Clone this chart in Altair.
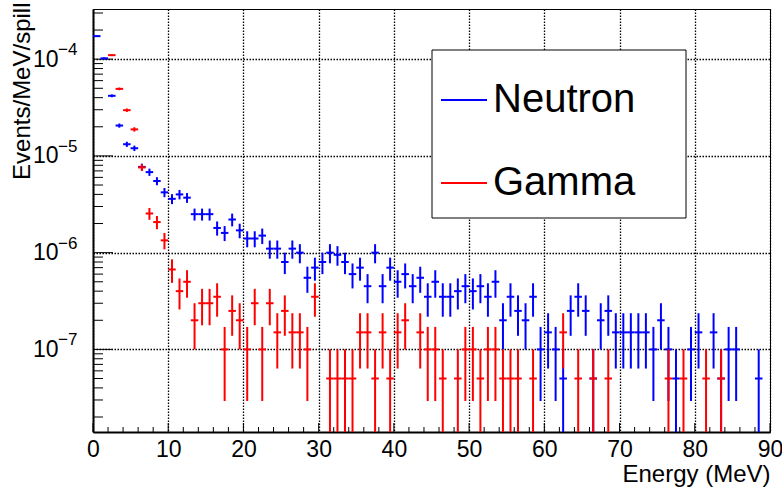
import math
import altair as alt
import pandas as pd

# ---------------- data (Events/MeV/spill per 1 MeV bin, None = empty bin) -------------
BIN_EDGES = list(range(0, 91))
EVENT_WEIGHT = 5e-8  # one event in a bin, used for the Poisson error bars

neutron = [
    1.73e-4, 1.02e-4, 4.18e-5, 2.06e-5, 1.32e-5, 1.20e-5, 7.7e-6, 6.8e-6, 5.5e-6, 4.2e-6,
    3.6e-6, 4.0e-6, 3.7e-6, 2.5e-6, 2.5e-6, 2.5e-6, 1.8e-6, 1.6e-6, 2.2e-6, 1.7e-6,
    1.4e-6, 1.4e-6, 1.5e-6, 1.1e-6, 1.1e-6, 8.0e-7, 1.1e-6, 1.0e-6, 5.5e-7, 7.0e-7,
    8.0e-7, 1.0e-6, 9.5e-7, 8.0e-7, 6.0e-7, 7.0e-7, 4.5e-7, 1.0e-6, 4.5e-7, 7.0e-7,
    5.0e-7, 6.0e-7, 4.5e-7, 5.5e-7, 3.5e-7, 5.0e-7, 3.5e-7, 3.5e-7, 4.0e-7, 4.5e-7,
    4.0e-7, 4.5e-7, 3.5e-7, 5.0e-7, 2.0e-7, 3.5e-7, 2.5e-7, 2.0e-7, 3.5e-7, 1.0e-7,
    1.5e-7, 1.0e-7, 5.0e-8, 2.5e-7, 3.5e-7, 2.5e-7, 5.0e-8, 2.0e-7, 2.5e-7, 1.5e-7,
    1.5e-7, 1.5e-7, 1.5e-7, 1.5e-7, 1.0e-7, 2.0e-7, 1.0e-7, 5.0e-8, None, 1.0e-7,
    1.5e-7, None, 1.5e-7, 5.0e-8, 1.0e-7, 1.0e-7, None, None, 5.0e-8, None,
]

gamma = [
    None, None, 1.10e-4, 4.93e-5, 2.97e-5, 1.88e-5, 7.6e-6, 2.54e-6, 2.07e-6, 1.34e-6,
    6.7e-7, 4.0e-7, 5.0e-7, 2.0e-7, 3.0e-7, 3.0e-7, 3.5e-7, 1.0e-7, 2.5e-7, 2.0e-7,
    1.0e-7, 3.0e-7, 1.0e-7, 3.0e-7, 1.5e-7, 2.5e-7, 1.5e-7, 1.5e-7, 1.0e-7, 3.5e-7,
    None, 5.0e-8, 5.0e-8, 5.0e-8, 5.0e-8, 1.5e-7, 1.5e-7, 5.0e-8, 1.5e-7, 5.0e-8,
    1.5e-7, 2.0e-7, None, 1.5e-7, 1.0e-7, 1.0e-7, 5.0e-8, None, 5.0e-8, 1.0e-7,
    1.0e-7, 5.0e-8, 1.0e-7, 1.0e-7, 5.0e-8, 5.0e-8, 5.0e-8, None, 5.0e-8, None,
    None, None, 1.5e-7, None, 5.0e-8, None, 5.0e-8, None, 5.0e-8, None,
    None, None, None, None, None, None, 5.0e-8, None, 5.0e-8, None,
    None, 5.0e-8, None, 5.0e-8, None, None, None, None, None, None,
]

series_names = ["Neutron", "Gamma"]
series_colors = ["#0000ff", "#ff0000"]

x_major = [0, 10, 20, 30, 40, 50, 60, 70, 80, 90]
x_minor = [v for v in range(0, 91, 2) if v % 10 != 0]
y_major = [1e-7, 1e-6, 1e-5, 1e-4]
y_exponents = ["\u22127", "\u22126", "\u22125", "\u22124"]
y_minor = [k * 10.0 ** n for n in range(-8, -3) for k in range(2, 10)]

Y_DOMAIN = [1.4e-8, 3.3e-4]
X_DOMAIN = [0, 90]

FONT = "Liberation Sans"
W, H = 677, 423


def hist_frame(vals):
    rows = []
    for i, v in enumerate(vals):
        if v is None:
            continue
        e = math.sqrt(v * EVENT_WEIGHT)
        rows.append(dict(lo=BIN_EDGES[i], hi=BIN_EDGES[i + 1],
                         ctr=(BIN_EDGES[i] + BIN_EDGES[i + 1]) / 2,
                         val=v, ylo=max(v - e, Y_DOMAIN[0] * 0.5), yhi=v + e))
    return pd.DataFrame(rows)


xs = alt.Scale(domain=X_DOMAIN, nice=False, zero=False)
ys = alt.Scale(type="log", domain=Y_DOMAIN, nice=False)

GRID = dict(grid=True, gridDash=[1.5, 1.5], gridColor="black", gridOpacity=1, gridWidth=1.3)

x_axis = alt.Axis(values=x_major, title="Energy (MeV)", ticks=False,
                  domainColor="black", domainWidth=2, labelFontSize=23, labelFont=FONT,
                  labelColor="black", labelPadding=6, labelFlush=False, labelOverlap=False,
                  titleFont=FONT, titleFontSize=24, titleFontWeight="normal",
                  titleColor="black", titleAnchor="end", titleAlign="right",
                  titleX=W, titleY=49, titleBaseline="alphabetic", **GRID)
y_axis = alt.Axis(values=y_major, labelExpr="'10'", title="Events/MeV/spill",
                  ticks=False, domainColor="black", domainWidth=2, labelFontSize=23,
                  labelFont=FONT, labelColor="black", labelPadding=35,
                  labelBaseline="middle", labelOverlap=False,
                  titleFont=FONT, titleFontSize=24, titleFontWeight="normal",
                  titleColor="black", titleAngle=270, titleAnchor="end",
                  titleAlign="right", titleBaseline="middle", titleX=-71, titleY=-7,
                  **GRID)

layers = []

# axis carrier (invisible)
axis_df = pd.DataFrame({"x": X_DOMAIN, "y": Y_DOMAIN})
layers.append(alt.Chart(axis_df).mark_point(opacity=0).encode(
    x=alt.X("x:Q", scale=xs, axis=x_axis),
    y=alt.Y("y:Q", scale=ys, axis=y_axis)))

# ticks (inside, ROOT style)
tick_x_major = pd.DataFrame({"t": x_major})
tick_x_minor = pd.DataFrame({"t": x_minor})
tick_y_major = pd.DataFrame({"t": y_major})
tick_y_minor = pd.DataFrame({"t": [v for v in y_minor if Y_DOMAIN[0] <= v <= Y_DOMAIN[1]]})
layers.append(alt.Chart(tick_x_major).mark_rule(color="black", strokeWidth=1).encode(
    x=alt.X("t:Q", scale=xs), y=alt.value(H), y2=alt.value(H - 9)))
layers.append(alt.Chart(tick_x_minor).mark_rule(color="black", strokeWidth=1).encode(
    x=alt.X("t:Q", scale=xs), y=alt.value(H), y2=alt.value(H - 5)))
layers.append(alt.Chart(tick_y_major).mark_rule(color="black", strokeWidth=1).encode(
    y=alt.Y("t:Q", scale=ys), x=alt.value(0), x2=alt.value(20)))
layers.append(alt.Chart(tick_y_minor).mark_rule(color="black", strokeWidth=1).encode(
    y=alt.Y("t:Q", scale=ys), x=alt.value(0), x2=alt.value(10)))

# exponent labels
exp_df = pd.DataFrame({"t": y_major, "lab": y_exponents})
layers.append(alt.Chart(exp_df).mark_text(align="left", baseline="middle", fontSize=17,
                                          font=FONT, color="black", dy=-9).encode(
    y=alt.Y("t:Q", scale=ys), x=alt.value(-35), text="lab:N"))

# histograms with error bars
for vals, col in zip([neutron, gamma], series_colors):
    df = hist_frame(vals)
    base = alt.Chart(df)
    layers.append(base.mark_rule(color=col, strokeWidth=2, clip=True).encode(
        x=alt.X("lo:Q", scale=xs), x2="hi:Q", y=alt.Y("val:Q", scale=ys)))
    layers.append(base.mark_rule(color=col, strokeWidth=2, clip=True).encode(
        x=alt.X("ctr:Q", scale=xs), y=alt.Y("ylo:Q", scale=ys), y2="yhi:Q"))

# legend box
one = pd.DataFrame({"k": [0]})
layers.append(alt.Chart(one).mark_rect(fill="white", stroke="black", strokeWidth=1).encode(
    x=alt.value(339), x2=alt.value(593), y=alt.value(41), y2=alt.value(209)))
for name, col, yy in zip(series_names, series_colors, [91, 174]):
    layers.append(alt.Chart(one).mark_rule(color=col, strokeWidth=2).encode(
        x=alt.value(348), x2=alt.value(394), y=alt.value(yy)))
    layers.append(alt.Chart(one).mark_text(align="left", baseline="middle", fontSize=40,
                                           font=FONT, color="black").encode(
        x=alt.value(400), y=alt.value(yy), text=alt.value(name)))

chart = alt.layer(*layers).properties(
    width=W, height=H,
    autosize=alt.AutoSizeParams(type="none"),
    padding={"left": 93, "top": 9, "right": 12, "bottom": 55},
    background="white",
).configure_view(stroke="black", strokeWidth=1)

chart.save("out.html", embed_options={"renderer": "svg", "actions": False})
